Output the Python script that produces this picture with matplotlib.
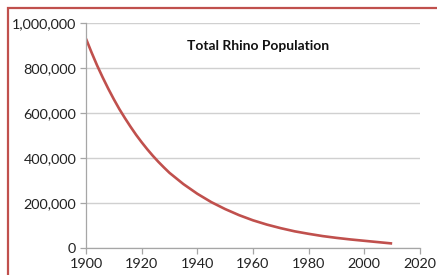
import matplotlib
matplotlib.use("Agg")
import matplotlib.pyplot as plt
from matplotlib.patches import Rectangle
from matplotlib.ticker import FuncFormatter

years = [1900, 1902, 1904, 1906, 1908, 1910, 1912, 1914, 1916, 1918, 1920,
         1922, 1924, 1926, 1928, 1930, 1935, 1940, 1945, 1950, 1955,
         1960, 1965, 1970, 1975, 1980, 1985, 1990, 1995, 2000, 2005, 2010]
population = [930000, 869000, 811000, 758000, 708000, 661000, 617000, 577000,
              539000, 503000, 470000, 439000, 410000, 383000, 358000, 334000,
              284000, 241000, 204000, 173000, 146000, 123000, 104000, 88000,
              74000, 63000, 53000, 45000, 38000, 32000, 26000, 20000]
title = "Total Rhino Population"
x_ticks = [1900, 1920, 1940, 1960, 1980, 2000, 2020]
y_ticks = [0, 200000, 400000, 600000, 800000, 1000000]

plt.rcParams['font.family'] = ['Lato', 'DejaVu Sans']

fig = plt.figure(figsize=(4.37, 2.75), dpi=100)
fig.patch.set_facecolor('white')
ax = fig.add_axes([86/437, 1-248/275, (420-86)/437, (248-23)/275])

ax.plot(years, population, color='#C0504D', linewidth=1.9,
        solid_capstyle='butt', solid_joinstyle='round')

ax.set_xlim(1900, 2020)
ax.set_ylim(0, 1000000)
ax.set_xticks(x_ticks)
ax.set_yticks(y_ticks)
ax.yaxis.set_major_formatter(FuncFormatter(lambda v, p: f"{int(v):,}"))

ax.grid(axis='y', color='#D0D0D0', linewidth=1.0)
ax.set_axisbelow(True)
for s in ['top', 'right']:
    ax.spines[s].set_visible(False)
for s in ['left', 'bottom']:
    ax.spines[s].set_color('#A6A6A6')
    ax.spines[s].set_linewidth(0.9)
ax.tick_params(axis='both', colors='#A6A6A6', length=4, width=0.9, direction='out',
               labelcolor='#222222', labelsize=10.4)
ax.tick_params(axis='x', pad=3)
ax.tick_params(axis='y', pad=3)

ax.text(1961.7, 898000, title, ha='center', va='center', fontsize=10,
        fontweight='bold', color='#111111')

fig.patches.append(Rectangle((8/437, -0.2), 1.5, (1-8/275)+0.2,
                             transform=fig.transFigure, fill=False,
                             edgecolor='#C0504D', linewidth=1.6, zorder=10))

fig.savefig('out.png', dpi=100, facecolor='white')
